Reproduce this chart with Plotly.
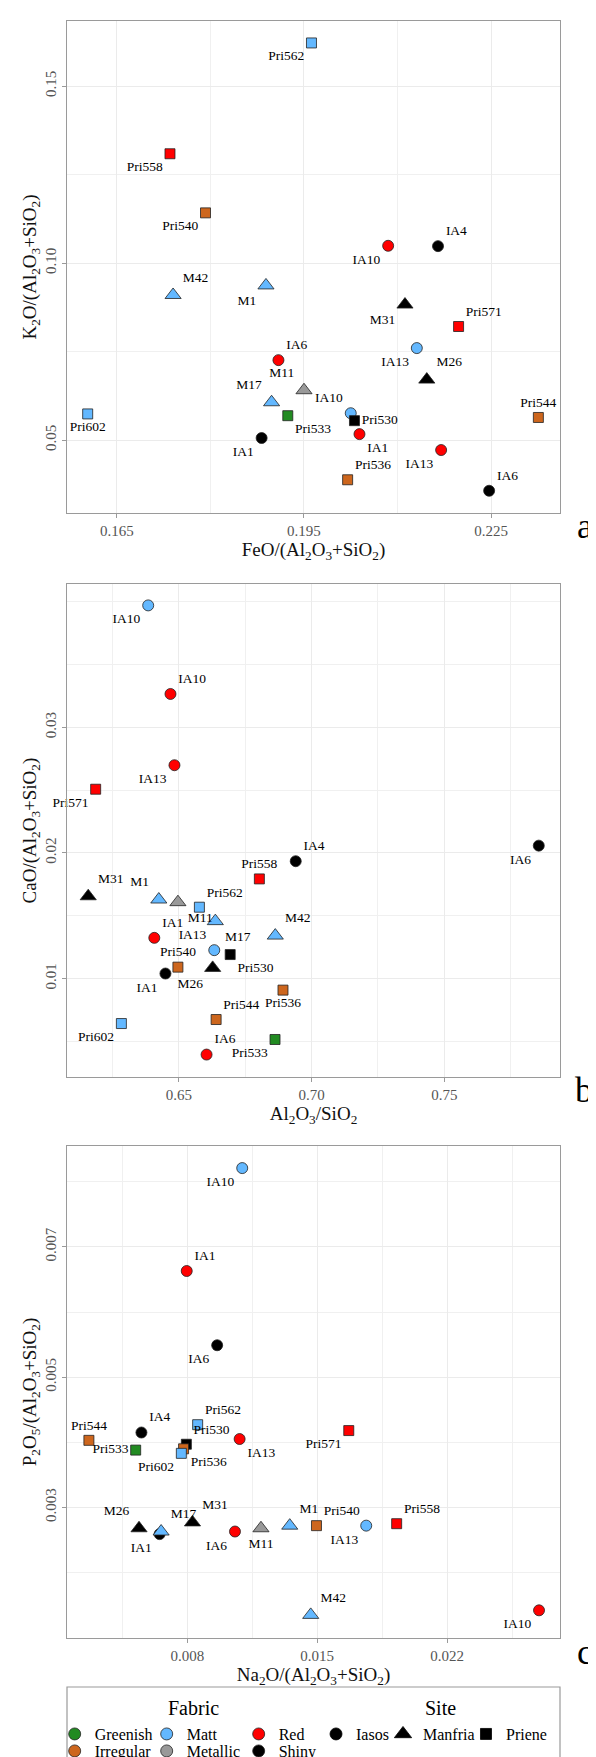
import plotly.graph_objects as go

# ---------------- data ----------------
samples = ["IA1", "IA1", "IA4", "IA6", "IA6", "IA10", "IA10", "IA13", "IA13",
           "M1", "M11", "M17", "M26", "M31", "M42",
           "Pri530", "Pri533", "Pri536", "Pri540", "Pri544", "Pri558", "Pri562", "Pri571", "Pri602"]
fabric = ["Red", "Shiny", "Shiny", "Red", "Shiny", "Red", "Matt", "Red", "Matt",
          "Matt", "Metallic", "Matt", "Shiny", "Shiny", "Matt",
          "Shiny", "Greenish", "Irregular", "Irregular", "Irregular", "Red", "Matt", "Red", "Matt"]
site = ["Iasos"] * 9 + ["Manfria"] * 6 + ["Priene"] * 9

feo_ratio = [0.2039, 0.1882, 0.2165, 0.1909, 0.2247, 0.2085, 0.2025, 0.2170, 0.2131,
             0.1889, 0.1950, 0.1898, 0.2147, 0.2112, 0.1740,
             0.2031, 0.1924, 0.2020, 0.1792, 0.2326, 0.1735, 0.1962, 0.2198, 0.1603]
k2o_ratio = [0.0517, 0.0506, 0.1048, 0.0726, 0.0357, 0.1049, 0.0576, 0.0472, 0.0760,
             0.0937, 0.0641, 0.0607, 0.0671, 0.0883, 0.0910,
             0.0555, 0.0569, 0.0388, 0.1142, 0.0564, 0.1309, 0.1622, 0.0821, 0.0574]
al_si_ratio = [0.6407, 0.6449, 0.6940, 0.6604, 0.7856, 0.6468, 0.6384, 0.6483, 0.6633,
               0.6424, 0.6496, 0.6637, 0.6627, 0.6158, 0.6863,
               0.6693, 0.6862, 0.6892, 0.6496, 0.6640, 0.6803, 0.6577, 0.6186, 0.6283]
cao_ratio = [0.01324, 0.01040, 0.01934, 0.00395, 0.02058, 0.03265, 0.03970, 0.02698, 0.01226,
             0.01629, 0.01608, 0.01457, 0.01085, 0.01655, 0.01342,
             0.01191, 0.00515, 0.00908, 0.01091, 0.00674, 0.01793, 0.01568, 0.02507, 0.00642]
na2o_ratio = [0.00797, 0.00651, 0.00553, 0.01057, 0.00961, 0.02695, 0.01096, 0.01082, 0.01764,
              0.01352, 0.01197, 0.00659, 0.00540, 0.00828, 0.01465,
              0.00795, 0.00522, 0.00780, 0.01496, 0.00270, 0.01928, 0.00856, 0.01670, 0.00768]
p2o5_ratio = [0.00663, 0.00259, 0.00415, 0.00263, 0.00549, 0.00142, 0.00821, 0.00405, 0.00272,
              0.00272, 0.00268, 0.00263, 0.00268, 0.00277, 0.00135,
              0.00397, 0.00388, 0.00390, 0.00272, 0.00403, 0.00275, 0.00427, 0.00418, 0.00383]

fabric_levels = ["Greenish", "Irregular", "Matt", "Metallic", "Red", "Shiny"]
site_levels = ["Iasos", "Manfria", "Priene"]

# ---------------- style ----------------
FONT = "Liberation Serif"
fabric_colors = {"Greenish": "#228B22", "Irregular": "#CD661D", "Matt": "#63B8FF",
                 "Metallic": "#999999", "Red": "#FF0000", "Shiny": "#000000"}
site_symbols = {"Iasos": "circle", "Manfria": "triangle-up", "Priene": "square"}
site_sizes = {"Iasos": 11, "Manfria": 14, "Priene": 10}

pos_a = ["bottom right", "bottom left", "top right", "top right", "top right", "bottom left",
         "top left", "bottom left", "bottom left", "bottom left", "top left", "top left",
         "top right", "bottom left", "top right", "middle right", "bottom right", "top right",
         "bottom left", "top center", "bottom left", "bottom left", "top right", "bottom center"]
pos_b = ["top right", "bottom left", "top right", "top right", "bottom left", "top right",
         "bottom left", "bottom left", "top left", "top left", "bottom right", "bottom right",
         "bottom left", "top right", "top right", "bottom right", "bottom left", "bottom center",
         "top center", "top right", "top center", "top right", "bottom left", "bottom left"]
pos_c = ["top right", "bottom left", "top right", "bottom left", "bottom left", "bottom left",
         "bottom left", "bottom right", "bottom left", "top right", "bottom center", "top right",
         "top left", "top right", "top right", "top right", "middle left", "bottom right",
         "top right", "top center", "top right", "top right", "bottom left", "bottom left"]

sub2 = "<sub>2</sub>"
denom = "/(Al" + sub2 + "O<sub>3</sub>+SiO" + sub2 + ")"

panels = [
    dict(x=feo_ratio, y=k2o_ratio, pos=pos_a, xt="FeO" + denom, yt="K" + sub2 + "O" + denom,
         xr=[0.15698, 0.23607], yr=[0.0294, 0.1684],
         xtv=[0.165, 0.195, 0.225], xtt=["0.165", "0.195", "0.225"], xmv=[0.18, 0.21],
         ytv=[0.05, 0.10, 0.15], ytt=["0.05", "0.10", "0.15"], ymv=[0.075, 0.125],
         dom=[0.6957, 1.0], tag="a", tagy=0.6877),
    dict(x=al_si_ratio, y=cao_ratio, pos=pos_b, xt="Al" + sub2 + "O<sub>3</sub>/SiO" + sub2,
         yt="CaO" + denom,
         xr=[0.6078, 0.7936], yr=[0.00216, 0.0414],
         xtv=[0.65, 0.70, 0.75], xtt=["0.65", "0.70", "0.75"], xmv=[0.625, 0.675, 0.725, 0.775],
         ytv=[0.01, 0.02, 0.03], ytt=["0.01", "0.02", "0.03"], ymv=[0.005, 0.015, 0.025, 0.035, 0.04],
         dom=[0.3469, 0.6518], tag="b", tagy=0.3389),
    dict(x=na2o_ratio, y=p2o5_ratio, pos=pos_c, xt="Na" + sub2 + "O" + denom,
         yt="P" + sub2 + "O<sub>5</sub>" + denom,
         xr=[0.00152, 0.02808], yr=[0.000995, 0.00855],
         xtv=[0.008, 0.015, 0.022], xtt=["0.008", "0.015", "0.022"], xmv=[0.0045, 0.0115, 0.0185, 0.0255],
         ytv=[0.003, 0.005, 0.007], ytt=["0.003", "0.005", "0.007"], ymv=[0.002, 0.004, 0.006, 0.008],
         dom=[0.0, 0.3043], tag="c", tagy=-0.0087),
]

fig = go.Figure()
layout_axes = {}
annotations = []
for i, p in enumerate(panels, start=1):
    sfx = "" if i == 1 else str(i)
    fig.add_trace(go.Scatter(
        x=p["x"], y=p["y"], mode="markers+text", text=samples, textposition=p["pos"],
        textfont=dict(family=FONT, size=13.5, color="#000000"),
        marker=dict(color=[fabric_colors[f] for f in fabric],
                    symbol=[site_symbols[s] for s in site],
                    size=[site_sizes[s] for s in site], opacity=1,
                    line=dict(color="#222222", width=0.8)),
        xaxis="x" + sfx, yaxis="y" + sfx, showlegend=False, hoverinfo="skip", cliponaxis=False))
    common = dict(showline=True, mirror=True, linecolor="#9A9A9A", linewidth=1.2,
                  showgrid=True, gridcolor="#EBEBEB", gridwidth=1, zeroline=False,
                  ticks="outside", ticklen=4, tickcolor="#9A9A9A", tickwidth=1,
                  tickfont=dict(family=FONT, size=15, color="#555555"), tickmode="array")
    layout_axes["xaxis" + sfx] = dict(
        common, domain=[0, 1], anchor="y" + sfx, range=p["xr"],
        tickvals=p["xtv"], ticktext=p["xtt"],
        minor=dict(tickmode="array", tickvals=p["xmv"], showgrid=True, gridcolor="#F0F0F0", ticks=""),
        title=dict(text=p["xt"], font=dict(family=FONT, size=19, color="#111111"), standoff=4))
    layout_axes["yaxis" + sfx] = dict(
        common, domain=p["dom"], anchor="x" + sfx, range=p["yr"],
        tickvals=p["ytv"], ticktext=p["ytt"], tickangle=-90,
        minor=dict(tickmode="array", tickvals=p["ymv"], showgrid=True, gridcolor="#F0F0F0", ticks=""),
        title=dict(text=p["yt"], font=dict(family=FONT, size=19, color="#111111"), standoff=1))
    annotations.append(dict(text=p["tag"], x=1.071, y=p["tagy"], xref="paper", yref="paper",
                            xanchor="right", yanchor="middle", showarrow=False,
                            font=dict(family=FONT, size=36, color="#000000")))

# legend titles
for title, tx in [("Fabric", 0.2556), ("Site", 0.7566)]:
    annotations.append(dict(text=title, x=tx, y=-0.0433, xref="paper", yref="paper",
                            xanchor="center", yanchor="middle", showarrow=False,
                            font=dict(family=FONT, size=20, color="#000000")))

# legend entries: Fabric row 1 / row 2 (ggplot fills column-wise), Site items individually
fabric_row = {"Greenish": "legend", "Matt": "legend", "Red": "legend",
              "Irregular": "legend2", "Metallic": "legend2", "Shiny": "legend2"}
for f in ["Greenish", "Matt", "Red", "Irregular", "Metallic", "Shiny"]:
    fig.add_trace(go.Scatter(x=[None], y=[None], mode="markers", name=f, legend=fabric_row[f],
                             marker=dict(symbol="circle", size=12, color=fabric_colors[f], opacity=1,
                                         line=dict(color="#222222", width=0.8))))
site_legend = {"Iasos": "legend3", "Manfria": "legend4", "Priene": "legend5"}
for s in site_levels:
    fig.add_trace(go.Scatter(x=[None], y=[None], mode="markers", name=s, legend=site_legend[s],
                             marker=dict(symbol=site_symbols[s], size=site_sizes[s] + 1, opacity=1,
                                         color="#000000", line=dict(color="#000000", width=0.8))))

leg_common = dict(orientation="h", xanchor="left", yanchor="middle", entrywidthmode="pixels",
                  font=dict(family=FONT, size=16, color="#000000"), bgcolor="rgba(0,0,0,0)")

fig.update_layout(
    width=596, height=1757,
    margin=dict(l=59, r=44, t=13, b=127, autoexpand=False),
    paper_bgcolor="white", plot_bgcolor="white",
    font=dict(family=FONT, color="#000000"),
    annotations=annotations,
    legend=dict(leg_common, x=-0.025, y=-0.0594, entrywidth=47),
    legend2=dict(leg_common, x=-0.025, y=-0.0699, entrywidth=47),
    legend3=dict(leg_common, x=0.5051, y=-0.0594),
    legend4=dict(leg_common, x=0.6410, y=-0.0594),
    legend5=dict(leg_common, x=0.8093, y=-0.0594),
    shapes=[dict(type="rect", xref="paper", yref="paper", x0=0, x1=1, y0=-0.0303, y1=-0.09,
                 line=dict(color="#9A9A9A", width=1.2), fillcolor="rgba(0,0,0,0)")],
    **layout_axes,
)

fig.write_html("out.html")
